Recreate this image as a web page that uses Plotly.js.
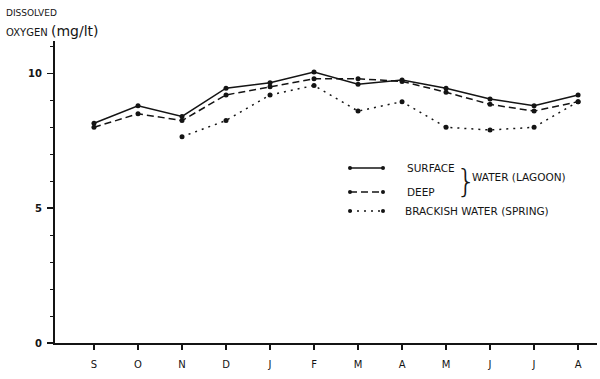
<!DOCTYPE html>
<html>
<head>
<meta charset="utf-8">
<script src="https://cdn.plot.ly/plotly-3.0.1.min.js"></script>
<style>html,body{margin:0;padding:0;background:#fff;}#chart{width:600px;height:379px;}</style>
</head>
<body>
<div id="chart"></div>
<script>
// Month tick labels (September to August)
const months = ['S','O','N','D','J','F','M','A','M','J','J','A'];
// Dissolved oxygen (mg/lt)
const surfaceLagoon = [8.15, 8.8, 8.4, 9.45, 9.65, 10.05, 9.6, 9.75, 9.45, 9.05, 8.8, 9.2];
const deepLagoon    = [8.0, 8.5, 8.25, 9.2, 9.5, 9.8, 9.8, 9.7, 9.3, 8.85, 8.6, 8.95];
const brackishSpring = [null, null, 7.65, 8.25, 9.2, 9.55, 8.6, 8.95, 8.0, 7.9, 8.0, 8.95];
const yTicks = [0, 5, 10];

const xIdx = months.map((_, i) => i);
const ink = '#141414';
const FONT = 'DejaVu Sans, sans-serif';

function series(name, y, dash) {
  return {
    type: 'scatter', mode: 'lines+markers', name: name,
    x: xIdx, y: y, connectgaps: false,
    line: {color: ink, width: 1.5, dash: dash},
    marker: {color: ink, size: 5},
    showlegend: false, hoverinfo: 'x+y'
  };
}

const data = [
  series('SURFACE', surfaceLagoon, 'solid'),
  series('DEEP', deepLagoon, '7px,4px'),
  series('BRACKISH WATER (SPRING)', brackishSpring, '2px,5px')
];

// plot area geometry in pixels (for placing the hand-drawn style legend)
const L = 55, R = 597, T = 41, B = 343;
const px = x => (x - L) / (R - L);
const py = y => (B - y) / (B - T);

const shapes = [];
const annotations = [];
const legendRows = [
  {y: 168, dash: 'solid', text: 'SURFACE', tx: 405},
  {y: 192, dash: '7px,4px', text: 'DEEP', tx: 405},
  {y: 211, dash: '2px,5px', text: 'BRACKISH WATER (SPRING)', tx: 403}
];
legendRows.forEach(r => {
  shapes.push({type: 'line', xref: 'paper', yref: 'paper',
    x0: px(350), x1: px(383), y0: py(r.y), y1: py(r.y),
    line: {color: ink, width: 1.3, dash: r.dash}});
  [350, 383].forEach(cx => shapes.push({type: 'circle', xref: 'paper', yref: 'paper',
    x0: px(cx - 2), x1: px(cx + 2), y0: py(r.y + 2), y1: py(r.y - 2),
    fillcolor: ink, line: {color: ink, width: 0}}));
  annotations.push({xref: 'paper', yref: 'paper', x: px(r.tx), y: py(r.y),
    xanchor: 'left', yanchor: 'middle', showarrow: false, text: r.text,
    font: {family: FONT, size: 10.5, color: ink}});
});
annotations.push({xref: 'paper', yref: 'paper', x: px(454), y: py(181),
  xanchor: 'left', yanchor: 'middle', showarrow: false, text: '}',
  font: {family: 'DejaVu Sans, sans-serif', size: 32, color: ink, weight: 200}});
annotations.push({xref: 'paper', yref: 'paper', x: px(470), y: py(177),
  xanchor: 'left', yanchor: 'middle', showarrow: false, text: 'WATER (LAGOON)',
  font: {family: FONT, size: 10.5, color: ink}});
// axis title (two hand-lettered lines at top left)
annotations.push({xref: 'paper', yref: 'paper', x: px(4), y: py(13),
  xanchor: 'left', yanchor: 'middle', showarrow: false, text: 'DISSOLVED',
  font: {family: FONT, size: 9, color: ink}});
annotations.push({xref: 'paper', yref: 'paper', x: px(4), y: py(31),
  xanchor: 'left', yanchor: 'middle', showarrow: false,
  text: 'OXYGEN <span style="font-size:14px">(mg/lt)</span>',
  font: {family: FONT, size: 10, color: ink}});

const layout = {
  width: 600, height: 379,
  paper_bgcolor: '#fff', plot_bgcolor: '#fff',
  margin: {l: L, r: 600 - R, t: T, b: 379 - B, pad: 0},
  showlegend: false,
  xaxis: {
    range: [-0.886, 11.43], tickvals: xIdx, ticktext: months,
    showline: true, linecolor: ink, linewidth: 2,
    ticks: 'outside', ticklen: 5, tickwidth: 1.5, tickcolor: ink,
    ticklabelstandoff: 6,
    showgrid: false, zeroline: false,
    tickfont: {family: FONT, size: 10, color: ink}
  },
  yaxis: {
    range: [0, 11.2], tickvals: yTicks, ticktext: yTicks.map(String),
    showline: true, linecolor: ink, linewidth: 2,
    ticks: 'outside', ticklen: 6, tickwidth: 1.5, tickcolor: ink,
    ticklabelstandoff: 3,
    minor: {dtick: 1, tick0: 0, ticks: 'outside', ticklen: 3, tickcolor: ink, tickwidth: 1, showgrid: false},
    showgrid: false, zeroline: false,
    tickfont: {family: FONT, size: 10, color: ink, weight: 'bold'}
  },
  shapes: shapes,
  annotations: annotations
};

Plotly.newPlot('chart', data, layout, {staticPlot: true, displayModeBar: false});
</script>
</body>
</html>
